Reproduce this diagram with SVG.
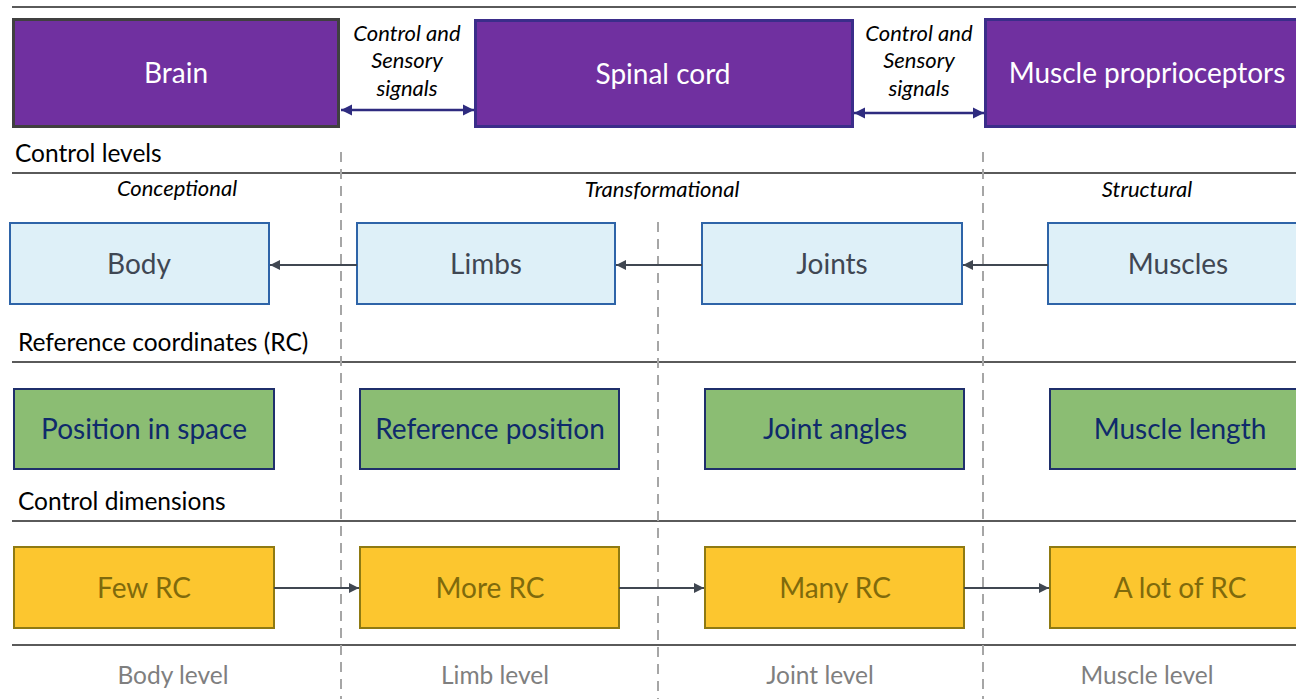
<svg xmlns="http://www.w3.org/2000/svg" width="1296" height="699" viewBox="0 0 1296 699">
<defs>
<marker id="ah" viewBox="0 0 10 10" refX="10" refY="5" markerWidth="5" markerHeight="5" orient="auto-start-reverse" markerUnits="strokeWidth">
<path d="M0,0 L10,5 L0,10 z" fill="#404751"/>
</marker>
<marker id="ahp" viewBox="0 0 10 10" refX="10" refY="5" markerWidth="4.5" markerHeight="4.5" orient="auto-start-reverse" markerUnits="strokeWidth">
<path d="M0,0 L10,5 L0,10 z" fill="#2E2B7F"/>
</marker>
<style>
text{font-family:Lato,"Liberation Sans",sans-serif;}
.sep{stroke:#5a5a5a;stroke-width:2;fill:none;}
.dash{stroke:#a6a6a6;stroke-width:2;stroke-dasharray:10,7;fill:none;}
.hdr{font-size:24.5px;fill:#000;}
.lvl{font-size:22px;font-style:italic;fill:#000;text-anchor:middle;}
.sig{font-size:22px;font-style:italic;fill:#000;text-anchor:middle;}
.pur{fill:#7030A0;stroke-width:3;}
.purt{font-size:28px;fill:#fff;text-anchor:middle;}
.blu{fill:#DEF0F8;stroke:#2E64A8;stroke-width:2;}
.blut{font-size:28px;fill:#3F4753;text-anchor:middle;}
.grn{fill:#8BBD73;stroke:#1F2F6B;stroke-width:2;}
.grnt{font-size:28px;fill:#0F2A6B;text-anchor:middle;}
.yel{fill:#FCC62F;stroke:#8F7A12;stroke-width:2;}
.yelt{font-size:28px;fill:#7F6A0C;text-anchor:middle;}
.bot{font-size:24.5px;fill:#7f7f7f;text-anchor:middle;}
.conn{stroke:#404751;stroke-width:2;fill:none;marker-end:url(#ah);}
.pconn{stroke:#2E2B7F;stroke-width:2.5;fill:none;marker-end:url(#ahp);marker-start:url(#ahp);}
</style>
</defs>
<g id="grid">
<line class="sep" x1="12" y1="7" x2="1296" y2="7"/>
<line class="sep" x1="12" y1="173" x2="1296" y2="173"/>
<line class="sep" x1="12" y1="362" x2="1296" y2="362"/>
<line class="sep" x1="12" y1="521" x2="1296" y2="521"/>
<line class="sep" x1="12" y1="645" x2="1296" y2="645"/>
<line class="dash" x1="341" y1="152" x2="341" y2="699"/>
<line class="dash" x1="983" y1="152" x2="983" y2="699"/>
<line class="dash" x1="658" y1="222" x2="658" y2="699"/>
</g>
<g id="headers">
<text class="hdr" x="15" y="162">Control levels</text>
<text class="hdr" x="18" y="351">Reference coordinates (RC)</text>
<text class="hdr" x="18" y="510">Control dimensions</text>
<text class="lvl" x="177" y="196">Conceptional</text>
<text class="lvl" x="662" y="197">Transformational</text>
<text class="lvl" x="1147" y="197">Structural</text>
<text class="sig" x="407" y="41">Control and</text>
<text class="sig" x="407" y="68">Sensory</text>
<text class="sig" x="407" y="96">signals</text>
<text class="sig" x="919" y="41">Control and</text>
<text class="sig" x="919" y="68">Sensory</text>
<text class="sig" x="919" y="96">signals</text>
</g>
<g id="brain"><rect class="pur" x="13.5" y="19.5" width="325" height="107" stroke="#404040"/><text class="purt" x="176" y="83">Brain</text></g>
<g id="spinal"><rect class="pur" x="475.5" y="20.5" width="377" height="106" stroke="#3B2D8A"/><text class="purt" x="663" y="84">Spinal cord</text></g>
<g id="proprio"><rect class="pur" x="985.5" y="19.5" width="320" height="107" stroke="#3B2D8A"/><text class="purt" x="1147" y="83">Muscle proprioceptors</text></g>
<g id="body"><rect class="blu" x="10" y="223" width="259" height="81"/><text class="blut" x="139" y="274">Body</text></g>
<g id="limbs"><rect class="blu" x="357" y="223" width="258" height="81"/><text class="blut" x="486" y="274">Limbs</text></g>
<g id="joints"><rect class="blu" x="702" y="223" width="260" height="81"/><text class="blut" x="832" y="274">Joints</text></g>
<g id="muscles"><rect class="blu" x="1048" y="223" width="260" height="81"/><text class="blut" x="1178" y="274">Muscles</text></g>
<g id="pos"><rect class="grn" x="14" y="389" width="260" height="80"/><text class="grnt" x="144" y="439">Position in space</text></g>
<g id="refpos"><rect class="grn" x="360" y="389" width="259" height="80"/><text class="grnt" x="490" y="439">Reference position</text></g>
<g id="jang"><rect class="grn" x="705" y="389" width="259" height="80"/><text class="grnt" x="835" y="439">Joint angles</text></g>
<g id="mlen"><rect class="grn" x="1050" y="389" width="259" height="80"/><text class="grnt" x="1180" y="439">Muscle length</text></g>
<g id="few"><rect class="yel" x="14" y="547" width="260" height="81"/><text class="yelt" x="144" y="598">Few RC</text></g>
<g id="more"><rect class="yel" x="360" y="547" width="259" height="81"/><text class="yelt" x="490" y="598">More RC</text></g>
<g id="many"><rect class="yel" x="705" y="547" width="259" height="81"/><text class="yelt" x="835" y="598">Many RC</text></g>
<g id="alot"><rect class="yel" x="1050" y="547" width="259" height="81"/><text class="yelt" x="1180" y="598">A lot of RC</text></g>
<g id="levels">
<text class="bot" x="173" y="684">Body level</text>
<text class="bot" x="495" y="684">Limb level</text>
<text class="bot" x="820" y="684">Joint level</text>
<text class="bot" x="1147" y="684">Muscle level</text>
</g>
<g id="connectors">
<line class="pconn" x1="341" y1="110" x2="474" y2="110"/>
<line class="pconn" x1="854" y1="113" x2="984" y2="113"/>
<line class="conn" x1="357" y1="265" x2="270" y2="265"/>
<line class="conn" x1="702" y1="265" x2="616" y2="265"/>
<line class="conn" x1="1048" y1="265" x2="963" y2="265"/>
<line class="conn" x1="274" y1="588" x2="359" y2="588"/>
<line class="conn" x1="619" y1="588" x2="704" y2="588"/>
<line class="conn" x1="964" y1="588" x2="1049" y2="588"/>
</g>
</svg>
